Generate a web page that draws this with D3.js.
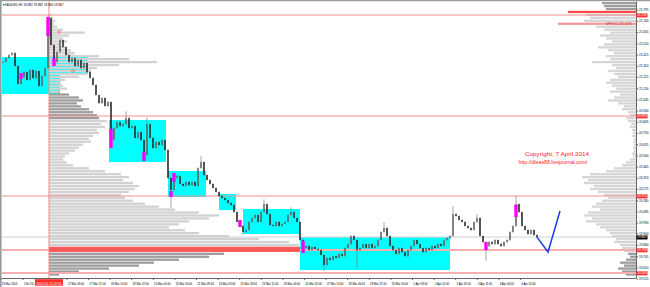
<!DOCTYPE html>
<html><head><meta charset="utf-8">
<script src="https://cdn.jsdelivr.net/npm/d3@7"></script>
<style>html,body{margin:0;padding:0;background:#fff;overflow:hidden}text{font-family:"Liberation Sans",Arial,sans-serif}</style>
</head><body><svg id="c" width="650" height="287"></svg>
<script>
// ---------- DATA ----------
const symbolHeader = "\u25BE XAGUSD,H1  19.882 19.882 19.860 19.867";
const closes = [
 21.351,21.384,21.410,21.427,21.317,21.164,21.223,21.266,21.198,21.283,
 21.215,21.274,21.147,21.232,21.300,21.723,21.495,21.351,21.435,21.537,
 21.478,21.410,21.351,21.384,21.317,21.368,21.300,21.342,21.266,21.215,
 21.156,21.071,21.003,21.046,20.978,21.012,20.690,20.791,20.842,20.808,
 20.825,20.876,20.791,20.808,20.707,20.757,20.690,20.562,20.825,20.707,
 20.622,20.673,20.647,20.690,20.605,20.368,20.266,20.368,20.385,20.317,
 20.300,20.334,20.308,20.334,20.300,20.452,20.503,20.393,20.351,20.317,
 20.283,20.249,20.215,20.198,20.181,20.156,20.139,20.079,19.995,19.961,
 19.910,19.927,19.995,20.029,20.054,19.995,20.079,20.147,20.062,19.969,
 19.961,19.995,19.961,19.978,19.995,20.054,20.079,20.029,19.995,19.842,
 19.774,19.791,19.757,19.783,19.766,19.757,19.715,19.630,19.690,19.673,
 19.706,19.690,19.724,19.706,19.774,19.808,19.876,19.842,19.757,19.774,
 19.808,19.774,19.808,19.774,19.791,19.842,19.910,19.944,19.876,19.791,
 19.757,19.724,19.774,19.740,19.706,19.757,19.791,19.842,19.808,19.774,
 19.740,19.774,19.757,19.791,19.774,19.808,19.791,19.842,19.859,19.876,
 20.062,20.045,20.012,19.995,19.961,19.944,19.927,19.995,20.029,19.876,
 19.825,19.791,19.825,19.808,19.842,19.808,19.791,19.825,19.842,19.910,
 19.961,20.147,20.079,19.961,19.927,19.893,19.927,19.884,19.867
];
const wickHighs = [[15,21.732],[41,20.927],[48,20.876],[66,20.545],[87,20.181],[96,20.113],[127,19.986],[150,20.122],[158,20.054],[171,20.207]];
const wickLows  = [[36,20.622],[56,20.122],[80,19.893],[107,19.588],[118,19.613],[161,19.673]];
// highlighted (magenta) candles: [bar, top price, bottom price]
const magentaBars = [[6,21.257,21.207],[15,21.732,21.571],[17,21.384,21.317],[36,20.783,20.622],[47,20.588,20.512],
  [56,20.257,20.207],[57,20.410,20.334],[79,20.012,19.952],[100,19.834,19.732],[161,19.825,19.757],[171,20.139,20.037]];
// value-area boxes: [startBar, endBar, top price, bottom price]
const cyanBoxes = [[-0.33,19,21.393,21.079],[19,28.33,21.393,21.249],[35.33,54.33,20.859,20.503],
  [55,67.67,20.427,20.207],[72,77.67,20.232,20.096],[80,99,20.105,19.893],[99,149,19.867,19.588]];
const markers = [[18.67,21.605],[23.3,21.274]];
const projection = [[178,19.867],[181.67,19.740],[185.67,20.088]];
// horizontal levels
const redLevels = [21.749,20.893,20.215];
const bandLevels = [19.758,19.563];
const lastPrice = 19.867;
const axisBoxes = [[21.749,"21.749"],[20.893,"20.893"],[20.215,"20.215"],[19.758,"19.758"],[19.563,"19.563"]];
const priceTicks = [21.795,21.700,21.605,21.510,21.415,21.320,21.225,21.130,21.035,20.940,20.845,20.750,20.655,
  20.560,20.465,20.370,20.275,20.180,20.085,19.990,19.900,19.800,19.705,19.610,19.515];
const timeLabels = ["13 Mar 2014","13 Mar 18:00","17 Mar 05:00","17 Mar 21:00","18 Mar 14:00","19 Mar 07:00","20 Mar 00:00",
  "20 Mar 16:00","21 Mar 09:00","24 Mar 03:00","24 Mar 18:00","25 Mar 11:00","26 Mar 04:00","26 Mar 20:00","27 Mar 13:00",
  "28 Mar 06:00","28 Mar 22:00","31 Mar 16:00","1 Apr 08:00","2 Apr 01:00","2 Apr 18:00","3 Apr 11:00","4 Apr 04:00","4 Apr 20:00"];
const timeTickBars = [-0.7,6.7,21.3,28.5,35.7,42.9,50.1,57.3,64.5,71.7,78.9,86.1,93.3,100.5,107.7,114.9,122.1,129.3,136.5,143.7,150.9,158.1,165.3,172.5];
const vlineBar = 15.33;
const vlineLabel = "2014.03.14 02:00";
// volume profiles: levels every 0.025
const leftProfileTop = 21.750;
const leftProfile = [2,4,6,5,8,14,36,20,14,18,12,16,22,26,50,80,108,70,48,42,38,30,16,12,14,18,10,20,30,34,
 28,32,40,44,48,50,58,52,56,48,50,44,40,42,34,30,26,20,16,14,18,24,40,56,72,80,74,84,90,86,
 80,72,76,84,96,110,126,150,170,160,140,130,120,136,150,180,210,240,250,251,230,175,160,130,105,90,60,30,10];
const leftPOC = 19.775;
const leftDark = [[20.87,21.09],[19.54,19.735]];
const rightProfileTop = 21.850;
const rightProfile = [34,32,30,68,50,46,52,78,40,32,26,36,30,24,32,38,28,22,30,26,44,24,20,28,22,18,26,30,24,20,
 26,16,22,28,18,12,14,8,6,10,8,5,6,4,3,4,2,3,2,3,2,4,3,6,10,14,22,30,46,54,
 48,52,42,46,38,32,28,34,40,44,36,48,52,44,50,40,36,30,26,24,20,22,16,14,12,8,6,10,16,12,18,14,10];
const rightPOC = 21.775;
const rightTag = [21.675,"VPOC 21.675"];
const rightDark = [[21.79,21.88],[19.54,19.74]];
const copyright = ["Copyright, 7 April 2014","http://dleas88.livejournal.com/"];

// ---------- DRAW ----------
const svg = d3.select("#c");
const P = {l:2, r:636, t:1.5, b:278};
const y = d3.scaleLinear().domain([19.515,21.795]).range([278.6,9.6]);
const x = d3.scaleLinear().domain([0,178]).range([3,537]);
const vol = d3.scaleLinear().domain([0,100]).range([0,100]);
const step = 0.025;

svg.append("rect").attr("width",650).attr("height",287).attr("fill","#fff");
svg.append("defs").append("clipPath").attr("id","clip").append("rect")
  .attr("x",P.l).attr("y",P.t).attr("width",P.r-P.l).attr("height",P.b-P.t);
const g = svg.append("g").attr("clip-path","url(#clip)");

// cyan boxes
g.selectAll(".cy").data(cyanBoxes).join("rect")
  .attr("x",d=>x(d[0])).attr("width",d=>x(d[1])-x(d[0]))
  .attr("y",d=>y(d[2])).attr("height",d=>y(d[3])-y(d[2])).attr("fill","#00ffff");

function inRanges(p,r){return r.some(q=>p>=q[0]&&p<=q[1]);}
// left profile
const x0 = x(vlineBar);
g.selectAll(".lp").data(leftProfile).join("rect")
  .attr("x",x0).attr("y",(d,k)=>y(leftProfileTop-k*step)-1.15)
  .attr("width",d=>vol(d)).attr("height",2.3)
  .attr("fill",(d,k)=>{const p=leftProfileTop-k*step; if(Math.abs(p-leftPOC)<1e-6) return "#ff5a5a"; return inRanges(p,leftDark)?"#9e9e9e":"#d2d2d2";});
// right profile
g.selectAll(".rp").data(rightProfile).join("rect")
  .attr("x",d=>P.r-vol(d)).attr("y",(d,k)=>y(rightProfileTop-k*step)-1.15)
  .attr("width",d=>vol(d)).attr("height",2.3)
  .attr("fill",(d,k)=>{const p=rightProfileTop-k*step; if(Math.abs(p-rightPOC)<1e-6) return "#ff4a4a"; if(Math.abs(p-rightTag[0])<1e-6) return "#f59a9a"; return inRanges(p,rightDark)?"#9e9e9e":"#d6d6d6";});
g.append("text").attr("x",P.r-30).attr("y",y(rightTag[0])+1.4).attr("font-size",4).attr("fill","#b03030")
  .attr("textLength",26).attr("lengthAdjust","spacingAndGlyphs").text(rightTag[1]);

// horizontal lines
g.selectAll(".rl").data(redLevels).join("line").attr("x1",P.l).attr("x2",P.r)
  .attr("y1",d=>y(d)).attr("y2",d=>y(d)).attr("stroke","#f29090").attr("stroke-width",1);
g.selectAll(".bl").data(bandLevels).join("line").attr("x1",P.l).attr("x2",P.r)
  .attr("y1",d=>y(d)).attr("y2",d=>y(d)).attr("stroke","#f7b0b0").attr("stroke-width",2);
g.append("rect").attr("x",x0).attr("width",300-x0).attr("y",y(leftPOC)-1).attr("height",y(bandLevels[0])-y(leftPOC)+3).attr("fill","#ff5858");
g.append("line").attr("x1",P.l).attr("x2",P.r).attr("y1",y(lastPrice)).attr("y2",y(lastPrice)).attr("stroke","#cfcfcf").attr("stroke-width",1);
// vertical line
g.append("line").attr("x1",x0).attr("x2",x0).attr("y1",P.t).attr("y2",P.b).attr("stroke","#f08a8a").attr("stroke-width",1);

// candles
const candles = closes.map((c,i)=>({i,c,o:i?closes[i-1]:c}));
const hi = new Map(wickHighs), lo = new Map(wickLows);
g.selectAll(".wk").data(candles).join("line")
  .attr("x1",d=>x(d.i)).attr("x2",d=>x(d.i))
  .attr("y1",d=>y(Math.max(d.o,d.c,hi.get(d.i)||0))-0.8).attr("y2",d=>y(Math.min(d.o,d.c,lo.get(d.i)||99))+0.8)
  .attr("stroke","#808080").attr("stroke-width",0.7);
g.selectAll(".bd").data(candles).join("rect")
  .attr("x",d=>x(d.i)-0.65).attr("width",1.3)
  .attr("y",d=>y(Math.max(d.o,d.c))).attr("height",d=>Math.max(0.8,Math.abs(y(d.o)-y(d.c))))
  .attr("fill",d=>d.c<d.o?"#111":"#5a5a5a");
g.selectAll(".mg").data(magentaBars).join("rect")
  .attr("x",d=>x(d[0])-1.7).attr("width",3.4).attr("y",d=>y(d[1])).attr("height",d=>y(d[2])-y(d[1])).attr("fill","#ff00ff");
g.selectAll(".mk").data(markers).join("circle").attr("cx",d=>x(d[0])).attr("cy",d=>y(d[1])).attr("r",1.3)
  .attr("fill","none").attr("stroke","#ff6060").attr("stroke-width",0.7);
// projection
g.append("path").datum(projection).attr("d",d3.line().x(d=>x(d[0])).y(d=>y(d[1])))
  .attr("fill","none").attr("stroke","#1a3cf0").attr("stroke-width",1.5);

// copyright
svg.append("text").attr("x",557).attr("y",y(20.555)).attr("text-anchor","middle").attr("font-size",6).attr("fill","#ff2020")
  .attr("textLength",64).attr("lengthAdjust","spacingAndGlyphs").text(copyright[0]);
svg.append("text").attr("x",553).attr("y",y(20.485)).attr("text-anchor","middle").attr("font-size",6).attr("fill","#ff2020")
  .attr("textLength",69).attr("lengthAdjust","spacingAndGlyphs").text(copyright[1]);

// frame
svg.append("rect").attr("x",0).attr("y",0).attr("width",650).attr("height",1.2).attr("fill","#9a9a9a");
svg.append("rect").attr("x",0).attr("y",0).attr("width",1.6).attr("height",287).attr("fill","#9a9a9a");
svg.append("line").attr("x1",P.r+0.5).attr("x2",P.r+0.5).attr("y1",P.t).attr("y2",P.b).attr("stroke","#666").attr("stroke-width",1);
svg.append("line").attr("x1",P.l).attr("x2",P.r+0.5).attr("y1",P.b+0.5).attr("y2",P.b+0.5).attr("stroke","#666").attr("stroke-width",1);

// header
svg.append("text").attr("x",2.5).attr("y",6.3).attr("font-size",4.2).attr("fill","#000")
  .attr("textLength",61).attr("lengthAdjust","spacingAndGlyphs").text(symbolHeader);

// price axis
const ax = svg.append("g").attr("transform",`translate(${P.r+0.5},0)`)
  .call(d3.axisRight(y).tickValues(priceTicks).tickFormat(d3.format(".3f")).tickSize(1.5).tickPadding(1));
ax.select(".domain").remove();
ax.selectAll("line").attr("stroke","#666");
ax.selectAll("text").attr("font-size",3.8).attr("dy","0.25em").attr("fill","#000").attr("textLength",9.5).attr("lengthAdjust","spacingAndGlyphs")
  .attr("font-family","Liberation Sans, Arial, sans-serif");
const boxes = svg.append("g");
const allBoxes = axisBoxes.map(d=>[d[0],d[1],"#ff3030"]).concat([[lastPrice,lastPrice.toFixed(3),"#000"]]);
boxes.selectAll("rect").data(allBoxes).join("rect").attr("x",P.r+0.5).attr("y",d=>y(d[0])-1.8).attr("width",11).attr("height",4.2).attr("fill",d=>d[2]);
boxes.selectAll("text").data(allBoxes).join("text").attr("x",P.r+1.3).attr("y",d=>y(d[0])+1.3).attr("font-size",3.6).attr("fill","#fff")
  .attr("textLength",9.5).attr("lengthAdjust","spacingAndGlyphs").text(d=>d[1]);

// time axis
const tg = svg.append("g");
tg.selectAll("line").data(timeTickBars).join("line").attr("x1",d=>x(d)).attr("x2",d=>x(d)).attr("y1",P.b+0.5).attr("y2",P.b+2).attr("stroke","#666");
tg.selectAll("text").data(timeLabels).join("text")
  .attr("transform",(d,i)=>`translate(${x(timeTickBars[i])+0.8},284.6) scale(${i===1?0.42:0.7},1)`)
  .attr("font-size",4).attr("fill","#000").text(d=>d);
tg.append("rect").attr("x",x0-14).attr("y",279.2).attr("width",28).attr("height",6.5).attr("fill","#ff2a2a");
tg.append("text").attr("x",x0).attr("y",284.6).attr("text-anchor","middle").attr("font-size",4).attr("fill","#fff")
  .attr("textLength",25).attr("lengthAdjust","spacingAndGlyphs").text(vlineLabel);
</script></body></html>
